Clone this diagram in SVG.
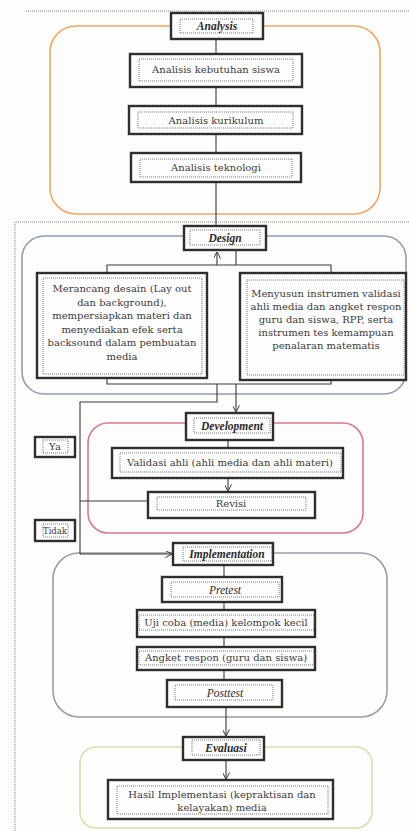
<svg xmlns="http://www.w3.org/2000/svg" width="409" height="831" viewBox="0 0 409 831">
<defs>
<style>
.bg{fill:#fdfdfc}
.box{fill:#fefefe;stroke:#2e2e2e;stroke-width:2.4}
.inner{fill:none;stroke:#555;stroke-width:0.8;stroke-dasharray:1 1}
.frame{fill:none;stroke:#777;stroke-width:0.9;stroke-dasharray:1 1}
.t{font-family:"DejaVu Serif","Liberation Serif",serif;font-size:10px;fill:#3a3a3a;text-anchor:middle}
.h{font-family:"Liberation Serif","DejaVu Serif",serif;font-size:11.5px;fill:#2a2a2a;text-anchor:middle;font-style:italic;font-weight:bold}
.c{fill:none;stroke:#3a3a3a;stroke-width:1.1}
.phase{fill:none;stroke-width:1.6}
</style>
<marker id="ah" viewBox="0 0 10 10" refX="9.5" refY="5" markerWidth="7" markerHeight="7" orient="auto" markerUnits="userSpaceOnUse">
<path d="M0,0 L10,5 L0,10" fill="none" stroke="#3a3a3a" stroke-width="1.4"/>
</marker>
</defs>
<rect class="bg" x="0" y="0" width="409" height="831"/>

<!-- page frames -->
<line class="frame" x1="26" y1="11" x2="409" y2="11"/>
<path class="frame" d="M409,222 H15 V831"/>

<!-- phase containers -->
<rect class="phase" x="50" y="26" width="330" height="188" rx="26" stroke="#f0a865"/>
<rect class="phase" x="22" y="236" width="384" height="158" rx="22" stroke="#8d9db3"/>
<rect class="phase" x="88" y="423" width="275" height="110" rx="20" stroke="#d97790"/>
<rect class="phase" x="53" y="553" width="334" height="164" rx="26" stroke="#9c9cab"/>
<rect class="phase" x="80" y="747" width="292" height="81" rx="16" stroke="#d9ddb0"/>

<!-- connectors -->
<g id="connectors">
<path class="c" d="M216,39 V54 M216,87 V106 M216,134 V153 M216,182 V225"/>
<path class="c" d="M217,265 V252" marker-end="url(#ah)"/>
<path class="c" d="M236,250 V265 M107,273 V265 H331 V273"/>
<path class="c" d="M107,378 V384 H331 V380 M217,384 V402 H80 V554"/>
<path class="c" d="M236,384 V412" marker-end="url(#ah)"/>
<path class="c" d="M80,554 H172" marker-end="url(#ah)"/>
<path class="c" d="M228,440 V448"/>
<path class="c" d="M228,478 V491" marker-end="url(#ah)"/>
<path class="c" d="M148,501 H80"/>
<path class="c" d="M224,565 V577 M224,602 V610 M224,637 V647 M224,670 V680"/>
<path class="c" d="M226,707 V736" marker-end="url(#ah)"/>
<path class="c" d="M226,760 V779" marker-end="url(#ah)"/>
</g>

<!-- Analysis -->
<g id="analysis">
<rect class="box" x="171" y="13" width="92" height="26"/>
<rect class="inner" x="180" y="19" width="73" height="14"/>
<text class="h" x="217" y="30">Analysis</text>
</g>
<g id="kebutuhan">
<rect class="box" x="130" y="54" width="172" height="33"/>
<rect class="inner" x="139" y="59" width="154" height="22"/>
<text class="t" x="216" y="73">Analisis kebutuhan siswa</text>
</g>
<g id="kurikulum">
<rect class="box" x="129" y="106" width="173" height="28"/>
<rect class="inner" x="138" y="112" width="155" height="16"/>
<text class="t" x="216" y="124">Analisis kurikulum</text>
</g>
<g id="teknologi">
<rect class="box" x="131" y="153" width="170" height="29"/>
<rect class="inner" x="140" y="159" width="152" height="18"/>
<text class="t" x="216" y="171">Analisis teknologi</text>
</g>

<!-- Design -->
<g id="design">
<rect class="box" x="184" y="226" width="82" height="24"/>
<rect class="inner" x="190" y="230" width="70" height="15"/>
<text class="h" x="225" y="241.5">Design</text>
</g>
<g id="merancang">
<rect class="box" x="37" y="273" width="170" height="105"/>
<rect class="inner" x="43" y="278" width="159" height="96"/>
<text class="t" x="122" y="292">Merancang desain (Lay out</text>
<text class="t" x="122" y="305.5">dan background),</text>
<text class="t" x="122" y="319">mempersiapkan materi dan</text>
<text class="t" x="122" y="332.5">menyediakan efek serta</text>
<text class="t" x="122" y="346">backsound dalam pembuatan</text>
<text class="t" x="122" y="359.5">media</text>
</g>
<g id="menyusun">
<rect class="box" x="240" y="273" width="166" height="107"/>
<rect class="inner" x="247" y="280" width="157" height="95"/>
<text class="t" x="326" y="297">Menyusun instrumen validasi</text>
<text class="t" x="326" y="310">ahli media dan angket respon</text>
<text class="t" x="326" y="323">guru dan siswa, RPP, serta</text>
<text class="t" x="326" y="336">instrumen tes kemampuan</text>
<text class="t" x="326" y="349">penalaran matematis</text>
</g>

<!-- Development -->
<g id="development">
<rect class="box" x="186" y="413" width="87" height="27"/>
<rect class="inner" x="194" y="418" width="76" height="15"/>
<text class="h" x="232" y="429.5">Development</text>
</g>
<g id="validasi">
<rect class="box" x="112" y="448" width="231" height="30"/>
<rect class="inner" x="120" y="453" width="221" height="19"/>
<text class="t" x="230" y="466">Validasi ahli (ahli media dan ahli materi)</text>
</g>
<g id="revisi">
<rect class="box" x="148" y="492" width="167" height="26"/>
<rect class="inner" x="157" y="497" width="149" height="13"/>
<text class="t" x="231" y="507">Revisi</text>
</g>
<g id="ya">
<rect class="box" x="35" y="437" width="40" height="20"/>
<rect class="inner" x="43" y="440" width="25" height="13"/>
<text class="t" x="55" y="450">Ya</text>
</g>
<g id="tidak">
<rect class="box" x="35" y="520" width="40" height="21"/>
<rect class="inner" x="43" y="524" width="25" height="13"/>
<text class="t" x="55" y="534" style="font-size:8.5px">Tidak</text>
</g>

<!-- Implementation -->
<g id="implementation">
<rect class="box" x="173" y="543" width="100" height="22"/>
<rect class="inner" x="183" y="547" width="89" height="14"/>
<text class="h" x="227" y="558">Implementation</text>
</g>
<g id="pretest">
<rect class="box" x="162" y="577" width="120" height="25"/>
<rect class="inner" x="171" y="582" width="108" height="15"/>
<text class="h" x="225" y="593.5" style="font-weight:normal">Pretest</text>
</g>
<g id="ujicoba">
<rect class="box" x="137" y="610" width="178" height="27"/>
<rect class="inner" x="139" y="615" width="175" height="15"/>
<text class="t" x="226" y="626">Uji coba (media) kelompok kecil</text>
</g>
<g id="angket">
<rect class="box" x="137" y="647" width="178" height="23"/>
<rect class="inner" x="139" y="651" width="175" height="14"/>
<text class="t" x="226" y="661">Angket respon (guru dan siswa)</text>
</g>
<g id="posttest">
<rect class="box" x="167" y="680" width="115" height="27"/>
<rect class="inner" x="175" y="685" width="98" height="15"/>
<text class="h" x="225" y="696.5" style="font-weight:normal">Posttest</text>
</g>

<!-- Evaluasi -->
<g id="evaluasi">
<rect class="box" x="183" y="737" width="81" height="23"/>
<rect class="inner" x="192" y="740" width="68" height="15"/>
<text class="h" x="226" y="752">Evaluasi</text>
</g>
<g id="hasil">
<rect class="box" x="108" y="780" width="225" height="39"/>
<rect class="inner" x="117" y="786" width="211" height="28"/>
<text class="t" x="222" y="798">Hasil Implementasi (kepraktisan dan</text>
<text class="t" x="222" y="811">kelayakan) media</text>
</g>
</svg>
